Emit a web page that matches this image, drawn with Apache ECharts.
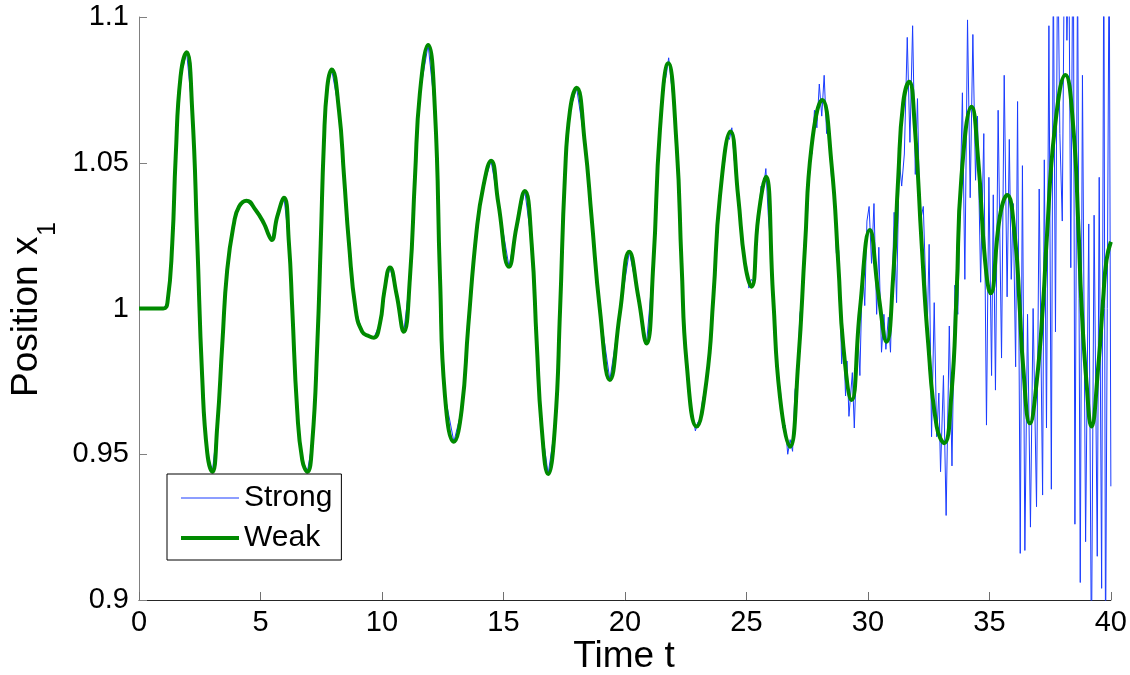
<!DOCTYPE html>
<html>
<head>
<meta charset="utf-8">
<script src="https://cdn.jsdelivr.net/npm/echarts@6/dist/echarts.min.js"></script>
<style>html,body{margin:0;padding:0;background:#fff}#c{width:1130px;height:675px}</style>
</head>
<body>
<div id="c"></div>
<script>
// ---- data ----
const xTicks = [0, 5, 10, 15, 20, 25, 30, 35, 40];
const yTicks = [0.9, 0.95, 1, 1.05, 1.1];

// Weak solution (smooth green curve): times and values
const weakT = [0,1.0,1.17,1.37,1.51,1.71,1.96,2.19,2.40,2.60,2.81,3.02,3.22,3.43,3.63,3.91,4.12,4.42,4.80,5.14,5.35,5.46,5.69,5.97,6.17,6.31,6.51,6.72,6.93,7.13,7.34,7.48,7.61,7.75,7.93,8.23,8.44,8.64,8.92,9.19,9.47,9.67,9.92,10.10,10.33,10.60,10.90,11.15,11.36,11.56,11.90,12.18,12.39,12.59,12.96,13.28,13.55,13.90,14.17,14.49,14.79,15.23,15.54,15.88,16.16,16.37,16.57,16.84,17.12,17.33,17.53,17.74,18.01,18.35,18.63,18.97,19.38,19.79,20.18,20.55,20.89,21.17,21.44,21.78,22.13,22.33,22.54,22.95,23.36,23.64,23.91,24.35,24.66,24.94,25.21,25.49,25.80,26.10,26.38,26.79,27.13,27.41,27.68,28.12,28.50,28.78,28.99,29.33,29.67,30.08,30.43,30.77,31.04,31.25,31.45,31.70,31.93,32.21,32.48,32.83,33.14,33.44,33.65,33.85,34.27,34.54,34.82,35.05,35.43,35.73,36.05,36.25,36.39,36.67,36.94,37.22,37.35,37.70,38.13,38.45,38.66,38.79,39.00,39.20,39.48,39.68,39.82,40.00];
const weakV = [1.000,1.000,1.002,1.0225,1.052,1.0795,1.0879,1.068,1.0225,0.9766,0.9504,0.944,0.9595,0.988,1.0132,1.0293,1.035,1.037,1.0338,1.0292,1.025,1.0235,1.0315,1.038,1.0225,0.9995,0.9652,0.948,0.944,0.9539,0.988,1.0225,1.0568,1.0761,1.082,1.068,1.0452,1.0225,0.9995,0.992,0.9905,0.990,0.995,1.006,1.0141,1.0049,0.992,1.0103,1.0452,1.0738,1.0904,1.068,1.0103,0.9703,0.9543,0.9652,0.9938,1.027,1.0418,1.0507,1.0361,1.0143,1.0281,1.0403,1.0223,0.9881,0.9595,0.9432,0.9595,0.9995,1.0452,1.068,1.0757,1.0567,1.031,0.9995,0.9755,0.9983,1.0195,1.004,0.988,1.0155,1.0612,1.0841,1.0555,1.0155,0.9812,0.9595,0.9755,1.004,1.0384,1.0607,1.0384,1.0155,1.0075,1.0315,1.0452,1.004,0.9697,0.9526,0.9812,1.0212,1.0555,1.0715,1.0498,1.0155,0.9869,0.9686,0.9995,1.0269,1.0052,0.9886,1.0109,1.0452,1.0704,1.0778,1.0624,1.0224,0.9881,0.9595,0.9538,0.9709,1.0052,1.0452,1.0692,1.0509,1.0166,1.0052,1.0315,1.0389,1.0246,1.000,0.980,0.9606,0.9743,1.003,1.0224,1.0624,1.0801,1.0624,1.0287,1.0015,0.9743,0.9595,0.980,1.003,1.0166,1.0229];

// Strong solution: identical to the weak one before t = 21.6 (hidden under it),
// then the noisy values
const strongSplitT = 21.6;
const strongTailT = [21.6,21.7,21.8,21.9,22.0,22.1,22.2,22.3,22.4,22.5,22.6,22.7,22.8,22.9,23.0,23.1,23.2,23.3,23.4,23.5,23.6,23.7,23.8,23.9,24.0,24.1,24.2,24.3,24.4,24.5,24.6,24.7,24.8,24.9,25.0,25.1,25.2,25.3,25.4,25.5,25.6,25.7,25.8,25.9,26.0,26.1,26.2,26.3,26.4,26.5,26.6,26.7,26.8,26.9,27.0,27.1,27.2,27.3,27.4,27.5,27.6,27.7,27.8,27.9,28.0,28.1,28.2,28.3,28.4,28.5,28.6,28.7,28.8,28.92,28.98,29.08,29.14,29.22,29.36,29.44,29.58,29.67,29.78,29.87,29.96,30.05,30.15,30.25,30.36,30.45,30.56,30.66,30.74,30.84,30.93,31.08,31.18,31.29,31.39,31.50,31.62,31.73,31.84,31.95,32.04,32.14,32.28,32.44,32.52,32.62,32.73,32.83,32.92,32.99,33.11,33.22,33.35,33.46,33.58,33.70,33.89,33.99,34.10,34.21,34.32,34.43,34.51,34.64,34.77,34.88,34.98,35.09,35.16,35.25,35.36,35.50,35.61,35.73,35.82,35.90,35.98,36.08,36.16,36.27,36.36,36.46,36.57,36.69,36.80,36.94,37.05,37.19,37.26,37.35,37.45,37.55,37.63,37.72,37.81,37.90,38.00,38.11,38.19,38.27,38.35,38.45,38.52,38.63,38.74,38.83,38.96,39.09,39.20,39.31,39.44,39.52,39.62,39.71,39.78,39.93,40.00];
const strongTailV = [1.076,1.080,1.086,1.078,1.071,1.057,1.044,1.020,1.006,0.985,0.977,0.966,0.963,0.958,0.961,0.962,0.969,0.972,0.980,0.988,1.001,1.010,1.026,1.035,1.046,1.050,1.059,1.058,1.062,1.051,1.045,1.033,1.028,1.016,1.015,1.007,1.010,1.009,1.027,1.030,1.042,1.041,1.048,1.032,1.021,1.000,0.994,0.976,0.972,0.959,0.960,0.950,0.955,0.951,0.972,0.976,0.998,1.003,1.026,1.029,1.052,1.053,1.068,1.062,1.077,1.066,1.080,1.060,1.064,1.045,1.044,1.019,1.020,0.981,0.993,0.970,0.982,0.963,0.978,0.959,0.994,0.977,1.016,1.001,1.030,1.035,1.0155,1.036,0.998,1.021,0.985,0.998,0.986,0.997,0.985,1.033,1.002,1.051,1.042,1.053,1.093,1.057,1.097,1.046,1.072,1.029,1.035,0.992,1.022,0.956,1.002,0.956,0.971,0.944,0.977,0.929,0.994,0.946,1.008,0.998,1.074,1.010,1.099,1.038,1.094,1.044,1.066,1.009,1.060,0.960,1.045,0.977,1.039,0.972,1.068,0.983,1.080,1.004,1.058,1.010,1.036,0.980,1.071,0.916,1.049,0.917,0.998,0.925,1.000,0.932,1.041,0.936,1.051,0.959,1.097,0.938,1.120,0.992,1.130,1.060,1.030,1.150,1.092,1.125,1.014,1.150,0.926,1.120,0.906,1.080,0.920,1.029,0.880,1.032,0.915,1.045,0.904,1.130,0.880,1.130,0.939];

// ---- build series data ----
const weakData = weakT.map((t, i) => [t, weakV[i]]);
const strongData = weakData.filter(p => p[0] < strongSplitT)
  .concat(strongTailT.map((t, i) => [t, strongTailV[i]]));

const FONT = '"Liberation Sans", Arial, Helvetica, sans-serif';
const BLUE = '#1a3cff';
const GREEN = '#008a00';
const HIDDEN_SYMBOL = {color: 'rgba(0,0,0,0)', borderWidth: 0, opacity: 0};
const chart = echarts.init(document.getElementById('c'), null, {renderer: 'canvas'});
chart.setOption({
  animation: false,
  backgroundColor: '#ffffff',
  grid: {left: 139, right: 19, top: 17, bottom: 75, containLabel: false},
  xAxis: {
    type: 'value', min: xTicks[0], max: xTicks[xTicks.length - 1], interval: 5,
    axisLine: {show: true, onZero: false, lineStyle: {color: '#262626', width: 1}},
    axisTick: {show: true, inside: true, length: 8, lineStyle: {color: '#707070', width: 1}},
    axisLabel: {fontSize: 29, fontFamily: FONT, color: '#000', margin: 8,
      formatter: v => String(v)},
    splitLine: {show: false}
  },
  yAxis: {
    type: 'value', min: yTicks[0], max: yTicks[yTicks.length - 1], interval: 0.05,
    axisLine: {show: true, onZero: false, lineStyle: {color: '#808080', width: 1}},
    axisTick: {show: true, inside: true, length: 8, lineStyle: {color: '#808080', width: 1}},
    axisLabel: {fontSize: 29, fontFamily: FONT, color: '#000', margin: 10,
      formatter: v => String(+v.toFixed(2))},
    splitLine: {show: false}
  },
  legend: {
    show: true,
    orient: 'vertical', left: 167, top: 474,
    padding: [9, 9, 7, 12],
    itemWidth: 58, itemHeight: 14, itemGap: 10,
    borderColor: '#000', borderWidth: 1, borderRadius: 0, backgroundColor: '#fff',
    textStyle: {fontSize: 30, fontFamily: FONT, color: '#000'},
    data: [
      {name: 'Strong', lineStyle: {color: BLUE, width: 1}, itemStyle: HIDDEN_SYMBOL},
      {name: 'Weak', lineStyle: {color: GREEN, width: 4}, itemStyle: HIDDEN_SYMBOL}
    ]
  },
  series: [
    {name: 'Strong', type: 'line', data: strongData, symbol: 'none', showSymbol: false,
      clip: true, color: BLUE, lineStyle: {color: BLUE, width: 1}, z: 2},
    {name: 'Weak', type: 'line', data: weakData, symbol: 'none', showSymbol: false,
      smooth: 0.5, clip: true, color: GREEN,
      lineStyle: {color: GREEN, width: 4}, z: 3}
  ],
  graphic: [
    {type: 'text', x: 624, y: 657, silent: true,
      style: {text: 'Time t', font: '37px ' + FONT, fill: '#000', align: 'center', verticalAlign: 'middle'}},
    {type: 'text', x: 27, y: 397, rotation: Math.PI / 2, silent: true,
      style: {text: 'Position x', font: '37px ' + FONT, fill: '#000', align: 'left', verticalAlign: 'middle'}},
    {type: 'text', x: 48, y: 236, rotation: Math.PI / 2, silent: true,
      style: {text: '1', font: '25px ' + FONT, fill: '#000', align: 'left', verticalAlign: 'middle'}}
  ]
});
</script>
</body>
</html>
